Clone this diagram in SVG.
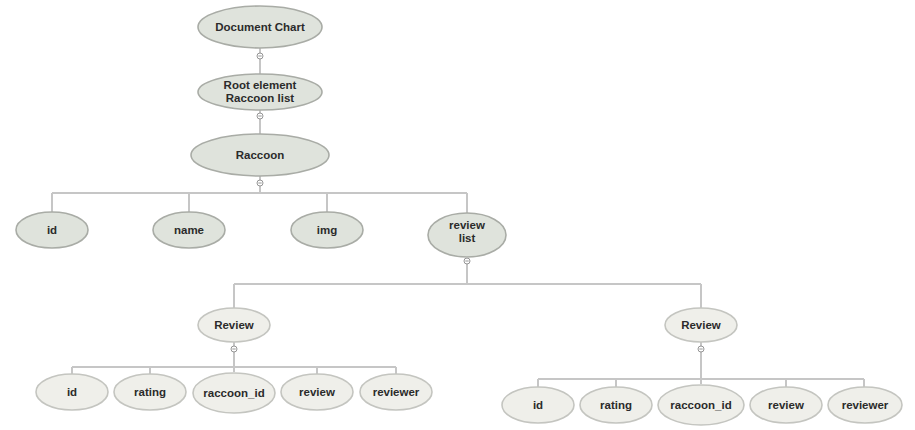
<svg xmlns="http://www.w3.org/2000/svg" width="915" height="430" viewBox="0 0 915 430">
<style>
.bg{fill:#ffffff}
.n1{fill:#dfe3dc;stroke:#a9aca6;stroke-width:1.6}
.n2{fill:#efefea;stroke:#c4c5c0;stroke-width:1.6}
.t{font-family:"Liberation Sans",Arial,sans-serif;font-size:11.5px;font-weight:bold;fill:#2b2b2b;text-anchor:middle}
.c{fill:none;stroke:#c6c6c6;stroke-width:2}
.m{fill:#ffffff;stroke:#8a8a8a;stroke-width:0.9}
.mm{stroke:#8a8a8a;stroke-width:0.9}
</style>
<rect class="bg" width="915" height="430"/>
<g id="connectors">
<path class="c" d="M260 48V75"/>
<path class="c" d="M260 110V134"/>
<path class="c" d="M260 176V193M52 193H467M52 193V212M189 193V212M327 193V212M467 193V213"/>
<path class="c" d="M467 258V284M234 284H701M234 284V308M701 284V308"/>
<path class="c" d="M234 342V367M72 367H396M72 367V374M150 367V374M234 367V372M317 367V374M396 367V374"/>
<path class="c" d="M701 342V379M538 379H864M538 379V387M616 379V387M701 379V384M786 379V387M864 379V387"/>
<g id="markers">
<circle class="m" cx="260" cy="56" r="3"/><path class="mm" d="M258.3 56H261.7"/>
<circle class="m" cx="260" cy="116" r="3"/><path class="mm" d="M258.3 116H261.7"/>
<circle class="m" cx="260" cy="183" r="3"/><path class="mm" d="M258.3 183H261.7"/>
<circle class="m" cx="467" cy="261" r="3"/><path class="mm" d="M465.3 261H468.7"/>
<circle class="m" cx="234" cy="349" r="3"/><path class="mm" d="M232.3 349H235.7"/>
<circle class="m" cx="701" cy="349" r="3"/><path class="mm" d="M699.3 349H702.7"/>
</g>
</g>
<g id="n-doc"><ellipse class="n1" cx="260" cy="27" rx="62" ry="21"/><text class="t" x="260" y="31">Document Chart</text></g>
<g id="n-root"><ellipse class="n1" cx="260" cy="92" rx="62" ry="18"/><text class="t" x="260" y="89">Root element</text><text class="t" x="260" y="102">Raccoon list</text></g>
<g id="n-raccoon"><ellipse class="n1" cx="260" cy="155" rx="69" ry="21"/><text class="t" x="260" y="159">Raccoon</text></g>
<g id="n-id"><ellipse class="n1" cx="52" cy="230" rx="36" ry="18"/><text class="t" x="52" y="234">id</text></g>
<g id="n-name"><ellipse class="n1" cx="189" cy="230" rx="36" ry="18"/><text class="t" x="189" y="234">name</text></g>
<g id="n-img"><ellipse class="n1" cx="327" cy="230" rx="36" ry="18"/><text class="t" x="327" y="234">img</text></g>
<g id="n-reviewlist"><ellipse class="n1" cx="467" cy="235" rx="39" ry="22"/><text class="t" x="467" y="229">review</text><text class="t" x="467" y="242">list</text></g>
<g id="n-review1"><ellipse class="n2" cx="234" cy="325" rx="36" ry="17"/><text class="t" x="234" y="329">Review</text></g>
<g id="n-review2"><ellipse class="n2" cx="701" cy="325" rx="36" ry="17"/><text class="t" x="701" y="329">Review</text></g>
<g id="n-l-id"><ellipse class="n2" cx="72" cy="392" rx="36" ry="18"/><text class="t" x="72" y="396">id</text></g>
<g id="n-l-rating"><ellipse class="n2" cx="150" cy="392" rx="36" ry="18"/><text class="t" x="150" y="396">rating</text></g>
<g id="n-l-raccoonid"><ellipse class="n2" cx="234" cy="393" rx="41" ry="20"/><text class="t" x="234" y="397">raccoon_id</text></g>
<g id="n-l-review"><ellipse class="n2" cx="317" cy="392" rx="36" ry="18"/><text class="t" x="317" y="396">review</text></g>
<g id="n-l-reviewer"><ellipse class="n2" cx="396" cy="392" rx="36" ry="18"/><text class="t" x="396" y="396">reviewer</text></g>
<g id="n-r-id"><ellipse class="n2" cx="538" cy="405" rx="36" ry="18"/><text class="t" x="538" y="409">id</text></g>
<g id="n-r-rating"><ellipse class="n2" cx="616" cy="405" rx="36" ry="18"/><text class="t" x="616" y="409">rating</text></g>
<g id="n-r-raccoonid"><ellipse class="n2" cx="701" cy="405" rx="43" ry="20"/><text class="t" x="701" y="409">raccoon_id</text></g>
<g id="n-r-review"><ellipse class="n2" cx="786" cy="405" rx="36" ry="18"/><text class="t" x="786" y="409">review</text></g>
<g id="n-r-reviewer"><ellipse class="n2" cx="865" cy="405" rx="37" ry="18"/><text class="t" x="865" y="409">reviewer</text></g>
</svg>
